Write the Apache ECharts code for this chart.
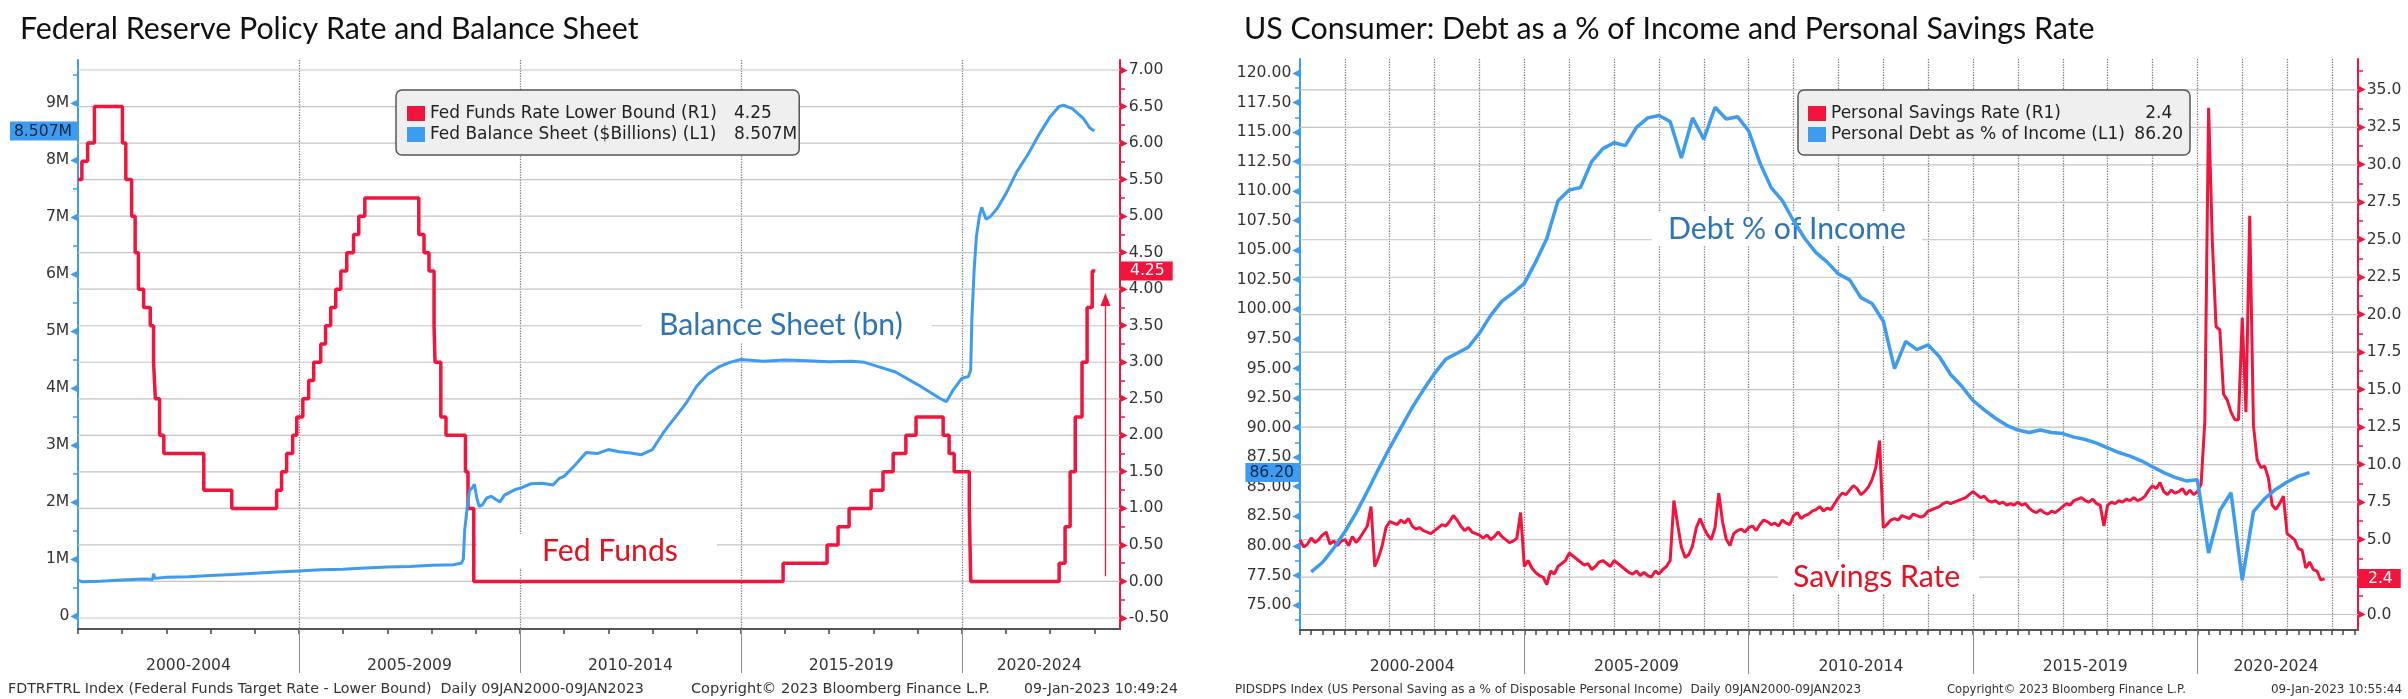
<!DOCTYPE html>
<html><head><meta charset="utf-8">
<script src="https://cdn.jsdelivr.net/npm/echarts@6/dist/echarts.min.js"></script>
<style>html,body{margin:0;padding:0;background:#fff}#c{width:2408px;height:699px}</style>
</head><body><div id="c"></div><script>
// ---------------- DATA ----------------
// Fed funds target rate, lower bound (change dates and new levels)
const ffDates = ['2000-01-01','2000-02-02','2000-03-21','2000-05-16','2001-01-03','2001-01-31','2001-03-20','2001-04-18','2001-05-15','2001-06-27','2001-08-21','2001-09-17','2001-10-02','2001-11-06','2001-12-11','2002-11-06','2003-06-25','2004-06-30','2004-08-10','2004-09-21','2004-11-10','2004-12-14','2005-02-02','2005-03-22','2005-05-03','2005-06-30','2005-08-09','2005-09-20','2005-11-01','2005-12-13','2006-01-31','2006-03-28','2006-05-10','2006-06-29','2007-09-18','2007-10-31','2007-12-11','2008-01-22','2008-01-30','2008-03-18','2008-04-30','2008-10-08','2008-10-29','2008-12-16','2015-12-16','2016-12-14','2017-03-15','2017-06-14','2017-12-13','2018-03-21','2018-06-13','2018-09-26','2018-12-19','2019-07-31','2019-09-18','2019-10-30','2020-03-03','2020-03-15','2022-03-16','2022-05-04','2022-06-15','2022-07-27','2022-09-21','2022-11-02','2022-12-14','2023-01-09'];
const ffRates = [5.50,5.75,6.00,6.50,6.00,5.50,5.00,4.50,4.00,3.75,3.50,3.00,2.50,2.00,1.75,1.25,1.00,1.25,1.50,1.75,2.00,2.25,2.50,2.75,3.00,3.25,3.50,3.75,4.00,4.25,4.50,4.75,5.00,5.25,4.75,4.50,4.25,3.50,3.00,2.25,2.00,1.50,1.00,0.00,0.25,0.50,0.75,1.00,1.25,1.50,1.75,2.00,2.25,2.00,1.75,1.50,1.00,0.00,0.25,0.75,1.50,2.25,3.00,3.75,4.25,4.25];
// Fed balance sheet (decimal year, millions of $ millions)
const bsYears = [2000.0,2000.1,2000.5,2001.0,2001.5,2001.69,2001.71,2001.74,2002.0,2002.5,2003.0,2003.5,2004.0,2004.5,2005.0,2005.5,2006.0,2006.5,2007.0,2007.5,2008.0,2008.5,2008.68,2008.72,2008.75,2008.8,2008.86,2008.92,2008.97,2009.03,2009.08,2009.15,2009.25,2009.35,2009.45,2009.55,2009.65,2009.75,2009.9,2010.0,2010.25,2010.5,2010.75,2010.9,2011.0,2011.25,2011.5,2011.75,2012.0,2012.25,2012.5,2012.75,2013.0,2013.25,2013.5,2013.75,2014.0,2014.25,2014.5,2014.75,2015.0,2015.5,2016.0,2016.5,2017.0,2017.5,2017.8,2018.0,2018.5,2019.0,2019.5,2019.65,2019.72,2019.8,2020.0,2020.15,2020.2,2020.23,2020.28,2020.33,2020.4,2020.45,2020.55,2020.65,2020.8,2021.0,2021.25,2021.5,2021.75,2022.0,2022.2,2022.3,2022.5,2022.75,2022.9,2023.0];
const bsValues = [0.63,0.60,0.61,0.63,0.65,0.64,0.74,0.66,0.68,0.69,0.71,0.73,0.75,0.77,0.79,0.81,0.82,0.84,0.86,0.87,0.89,0.90,0.93,1.00,1.50,1.85,2.20,2.25,2.31,2.05,1.92,1.95,2.07,2.10,2.05,2.00,2.12,2.16,2.22,2.24,2.32,2.33,2.30,2.42,2.45,2.65,2.87,2.85,2.92,2.88,2.86,2.83,2.92,3.22,3.47,3.72,4.03,4.24,4.37,4.45,4.50,4.47,4.49,4.48,4.46,4.47,4.45,4.40,4.28,4.06,3.82,3.76,3.85,3.96,4.17,4.20,4.31,5.25,6.08,6.66,7.02,7.17,6.96,7.01,7.15,7.41,7.80,8.10,8.45,8.76,8.94,8.96,8.90,8.73,8.56,8.51];
// Personal savings rate, monthly from Jan 2000
const savingsRate = [
5.0,4.5,4.7,5.1,4.8,5.0,5.3,5.5,4.7,4.9,4.6,4.9,
5.0,4.6,5.2,4.8,5.1,5.5,5.9,7.2,3.2,3.8,4.6,5.8,
6.2,6.1,6.0,6.3,6.1,6.4,5.9,5.7,5.8,5.6,5.5,5.4,
5.6,5.8,6.0,5.9,6.2,6.6,6.3,5.9,5.6,5.8,5.5,5.4,
5.3,5.1,5.3,5.0,5.2,5.5,5.2,5.0,4.8,4.9,5.1,6.8,
3.2,3.6,3.1,2.8,2.6,2.5,2.0,2.9,2.7,3.2,3.4,3.6,
4.1,3.9,3.7,3.5,3.3,3.4,3.0,3.2,3.5,3.6,3.4,3.2,
3.6,3.4,3.2,3.0,2.8,2.7,2.9,2.6,2.8,2.6,2.5,2.9,
2.7,3.0,3.2,3.6,7.6,6.0,4.5,3.8,4.0,4.6,5.8,6.4,
5.8,5.3,5.0,5.8,8.1,6.2,5.0,4.6,5.4,5.6,5.7,5.5,
5.8,5.9,5.6,6.0,6.3,6.2,6.0,6.1,5.9,6.3,6.1,6.0,
6.6,6.8,6.4,6.6,6.7,6.9,7.0,7.2,6.9,7.1,7.0,7.4,
7.8,8.1,8.0,8.3,8.6,8.4,8.0,8.2,8.5,9.0,9.8,11.6,
5.8,6.0,6.3,6.4,6.3,6.6,6.5,6.4,6.7,6.6,6.5,6.6,
6.9,7.0,7.1,7.2,7.4,7.5,7.4,7.5,7.6,7.7,7.8,8.0,
8.2,8.0,7.8,7.9,7.6,7.5,7.6,7.4,7.5,7.3,7.4,7.3,
7.5,7.3,7.4,7.1,6.9,6.8,7.0,6.8,6.7,6.9,6.8,7.0,
7.2,7.4,7.3,7.6,7.7,7.8,7.6,7.5,7.7,7.4,7.3,5.9,
7.3,7.5,7.4,7.6,7.5,7.7,7.6,7.8,7.6,7.7,7.9,8.3,
8.6,8.4,8.8,8.2,8.0,8.3,8.1,8.2,8.4,8.0,8.3,8.0,
8.2,8.7,12.9,33.8,24.9,19.2,19.0,14.7,14.3,13.5,13.0,13.0,
19.8,13.5,26.6,12.6,10.3,9.8,9.9,9.1,7.3,7.0,7.4,7.9,
5.4,5.2,5.0,4.4,4.3,3.1,3.5,3.0,2.9,2.3,2.4];
// Personal debt as % of income, quarterly from Q1 2000 (plotted at quarter end)
const debtPct = [
77.8,78.6,79.8,81.2, 82.8,84.6,86.5,88.3, 90.0,91.7,93.2,94.6, 95.8,96.3,96.8,98.0,
99.5,100.7,101.4,102.2, 104.0,106.0,109.2,110.1, 110.3,112.5,113.6,114.1, 113.85,115.4,116.2,116.4,
115.9,112.8,116.2,114.4, 117.1,116.1,116.3,115.1, 112.4,110.3,109.2,107.5, 106.0,104.8,104.0,103.0,
102.5,101.0,100.5,99.0, 95.0,97.3,96.6,97.0, 96.0,94.5,93.5,92.3, 91.5,90.8,90.2,89.8,
89.6,89.8,89.6,89.5, 89.2,89.0,88.7,88.3, 87.9,87.6,87.2,86.7, 86.2,85.8,85.5,85.6,
79.4,83.0,84.5,77.1, 82.9,84.0,84.8,85.4, 85.9,86.2];

// Tick / label values
const periodLabels = ['2000-2004','2005-2009','2010-2014','2015-2019','2020-2024'];
const periodCenters = [2002.5, 2007.5, 2012.5, 2017.5, 2021.75];
const majorYears = [2005, 2010, 2015, 2020];
const allYears = [2000,2001,2002,2003,2004,2005,2006,2007,2008,2009,2010,2011,2012,2013,2014,2015,2016,2017,2018,2019,2020,2021,2022,2023];
const fedLeftTicks = [0,1,2,3,4,5,6,7,8,9];
const fedRightTicks = [-0.5,0,0.5,1,1.5,2,2.5,3,3.5,4,4.5,5,5.5,6,6.5,7];
const conLeftTicks = [75,77.5,80,82.5,85,87.5,90,92.5,95,97.5,100,102.5,105,107.5,110,112.5,115,117.5,120];
const conRightTicks = [0,2.5,5,7.5,10,12.5,15,17.5,20,22.5,25,27.5,30,32.5,35];
const fedNames = ['Fed Funds Rate Lower Bound (R1)','Fed Balance Sheet ($Billions) (L1)'];
const fedValues = ['4.25','8.507M'];
const conNames = ['Personal Savings Rate (R1)','Personal Debt as % of Income (L1)'];
const conValues = ['2.4','86.20'];
const lastFF = 4.25, lastBS = 8.507, lastSav = 2.4, lastDebt = 86.20;
const arrowX = 2023.25, arrowFrom = 0.07, arrowTo = 3.86;

// ---------------- FONTS / MEASURING ----------------
const _ctx = document.createElement('canvas').getContext('2d');
function measure(t, size, fam){ _ctx.font = 'normal '+size+'px '+fam; return _ctx.measureText(t).width; }
function hasFont(f){ const s='abcdefghijkWMQ0123456789'; return Math.abs(measure(s,40,"'"+f+"',monospace")-measure(s,40,'monospace'))>0.5; }
const FA = hasFont('DejaVu Sans') ? "'DejaVu Sans'" : (hasFont('Verdana') ? 'Verdana' : "'Noto Sans',sans-serif");
const FT = hasFont('Lato') ? 'Lato' : "'Open Sans',sans-serif";
const fit = (t, fam, w) => +(100*w/measure(t,100,fam)).toFixed(2);

const RED = '#f2143c', BLUE = '#3d9cf0', TXT = '#333', GRIDC = '#7d7d7d';
const AXS = fit('2000-2004', FA, 85);
const TITLE_SZ = (fit('Federal Reserve Policy Rate and Balance Sheet', FT, 620) + fit('US Consumer: Debt as a % of Income and Personal Savings Rate', FT, 849))/2;
const NOTE_SZ = (fit('Balance Sheet (bn)', FT, 249) + fit('Fed Funds', FT, 134) + fit('Savings Rate', FT, 166))/3;

function decYear(s){const d=Date.parse(s+'T00:00:00Z');const y=+s.slice(0,4);const a=Date.UTC(y,0,1),b=Date.UTC(y+1,0,1);return y+(d-a)/(b-a);}
const halfSteps = (a, step) => a.map(v=>v+step/2);

const ffData = ffDates.map((d,i)=>[decYear(d), ffRates[i]]);
const bsData = bsYears.map((y,i)=>[y, bsValues[i]]);
const svData = savingsRate.map((v,i)=>[2000 + i/12, v]);
const dbData = debtPct.map((v,i)=>[2000.25 + i*0.25, v]);

const XMIN = 2000, XMAX = 2023.58;
const quarterTicks = [];
allYears.forEach(y=>{[0,0.25,0.5,0.75].forEach(q=>{ if(y+q<=XMAX) quarterTicks.push(y+q); });});

const G1 = {left:78, top:60, width:1042, height:569, rMin:-0.6505, rMax:7.137, lMin:-0.228, lMax:9.754};
const G2 = {left:1300, top:59, width:1058, height:571, rMin:-1.034, rMax:37.06, lMin:72.89, lMax:121.18};
const DOT = {color:GRIDC, width:1.3, type:'dotted'};

function xAxes(g, minorTicks, gridStep){
  return [
    {type:'value', gridIndex:g, min:XMIN, max:XMAX, position:'bottom',
      axisLine:{show:true, onZero:false, lineStyle:{color:'#555', width:2}},
      axisTick:{show:true, customValues:minorTicks, length:5, lineStyle:{color:'#444', width:1.5}},
      axisLabel:{show:true, customValues:periodCenters, margin:29, fontFamily:FA, fontSize:AXS, color:TXT,
        formatter:v=>{const i=periodCenters.findIndex(c=>Math.abs(c-v)<1e-6);return i<0?'':periodLabels[i];}},
      splitLine:{show:false}},
    {type:'value', gridIndex:g, min:XMIN, max:XMAX, position:'bottom',
      axisLine:{show:false, onZero:false}, axisLabel:{show:false},
      axisTick:{show:true, customValues:majorYears, length:44, lineStyle:{color:'#8a8a8a', width:1}},
      splitLine:{show:false}},
    {type:'value', gridIndex:g, min:XMIN, max:XMAX, interval:gridStep, position:'bottom',
      axisLine:{show:false, onZero:false}, axisLabel:{show:false}, axisTick:{show:false},
      splitLine:{show:true, showMinLine:false, showMaxLine:false, lineStyle:DOT}}
  ];
}
// horizontal grid drawn as a broken line series across the plot at each right-axis tick value
function hGridSeries(xi, yi, ticks){
  const pts = [];
  ticks.forEach(v=>{ pts.push([XMIN, v], [XMAX, v], [XMAX, null]); });
  return {type:'line', xAxisIndex:xi, yAxisIndex:yi, data:pts, connectNulls:false, silent:true, z:1,
    showSymbol:false, symbol:'none', legendHoverLink:false, animation:false,
    lineStyle:{color:'#c4c4c4', width:1.2, type:'solid'}, emphasis:{disabled:true}};
}
function flagLabel(txt, bg, fg, pad){
  return {show:true, formatter:txt, margin:0, backgroundColor:bg, color:fg, fontFamily:FA, fontSize:AXS, padding:pad, borderRadius:0};
}
function leftAxis(g, min, max, labels, minors, fmt, color, flagVal, flagTxt){
  return {type:'value', gridIndex:g, min, max, position:'left',
    axisLine:{show:true, onZero:false, lineStyle:{color, width:2}},
    axisTick:{show:true, customValues:minors, length:5, lineStyle:{color, width:1.5}},
    axisLabel:{show:true, customValues:labels, margin:0, formatter:v=>'{v|'+fmt(v)+'}{a|◀}',
      rich:{v:{fontFamily:FA, fontSize:AXS, color:TXT, padding:[0,1,0,0]}, a:{fontFamily:FA, fontSize:10, color}}},
    splitLine:{show:false},
    axisPointer:{show:true, status:'show', value:flagVal, snap:false, triggerTooltip:false, type:'line',
      lineStyle:{opacity:0, width:0}, label:flagLabel(flagTxt, color, '#0b2545', [2,6,1,4])}};
}
function rightAxis(g, min, max, labels, minors, fmt, color, flagVal, flagTxt){
  return {type:'value', gridIndex:g, min, max, position:'right',
    axisLine:{show:true, onZero:false, lineStyle:{color, width:2}},
    axisTick:{show:true, customValues:minors, length:5, lineStyle:{color, width:1.5}},
    axisLabel:{show:true, customValues:labels, margin:0, formatter:v=>'{a|▶}{v|'+fmt(v)+'}',
      rich:{v:{fontFamily:FA, fontSize:AXS, color:TXT, padding:[0,0,0,1]}, a:{fontFamily:FA, fontSize:10, color}}},
    splitLine:{show:false},
    axisPointer:{show:true, status:'show', value:flagVal, snap:false, triggerTooltip:false, type:'line',
      lineStyle:{opacity:0, width:0}, label:flagLabel(flagTxt, color, '#fff', [2,8,1,10])}};
}
function legend(left, top, names, values, textX, valueStarts, boxRight, padL, sz){
  const rich = {v:{fontFamily:FA, fontSize:sz, color:'#222', lineHeight:19}};
  let maxEnd = 0;
  names.forEach((n,i)=>{
    const gap = Math.max(2, valueStarts[i] - textX - measure(n, sz, FA));
    rich['n'+i] = {padding:[0, gap, 0, 0], fontFamily:FA, fontSize:sz, color:'#222', lineHeight:19};
    maxEnd = Math.max(maxEnd, valueStarts[i] + measure(values[i], sz, FA));
  });
  const padR = Math.max(2, boxRight - maxEnd);
  return {left, top, orient:'vertical', data:names, icon:'rect', itemWidth:18, itemHeight:15, itemGap:2,
    padding:[14, padR, 11, padL], backgroundColor:'#efefef', borderColor:'#555', borderWidth:1.5, borderRadius:6,
    selectedMode:false, z:8,
    formatter:n=>{const i=names.indexOf(n); return '{n'+i+'|'+n+'}{v|'+values[i]+'}';},
    textStyle:{fontFamily:FA, fontSize:sz, color:'#222', lineHeight:19, rich}};
}
function note(text, left, top, color, pad){
  return {type:'text', left, top, z:3, silent:true,
    style:{text, font:NOTE_SZ.toFixed(1)+'px '+FT, fill:color, backgroundColor:'#fff', padding:pad}};
}
function foot(text, left, top, width){
  return {text, left, top, padding:0, textStyle:{fontFamily:FA, fontSize:fit(text, FA, width), fontWeight:'normal', color:'#333'}};
}
const titleStyle = {fontFamily:FT, fontSize:TITLE_SZ, fontWeight:'normal', color:'#111'};

const FED_LSZ = fit(fedNames[0], FA, 287);
const CON_LSZ = fit(conNames[1], FA, 294);
const conDot = 2156;
const conStarts = conValues.map(v=>conDot - measure(v.split('.')[0], CON_LSZ, FA));
const toLeft = v => G1.lMin + (v-G1.rMin)*(G1.lMax-G1.lMin)/(G1.rMax-G1.rMin);

const option = {
  animation:false,
  backgroundColor:'#fff',
  title:[
    {text:'Federal Reserve Policy Rate and Balance Sheet', left:20, top:14, padding:0, textStyle:titleStyle},
    {text:'US Consumer: Debt as a % of Income and Personal Savings Rate', left:1244, top:14, padding:0, textStyle:titleStyle},
    foot('FDTRFTRL Index (Federal Funds Target Rate - Lower Bound)  Daily 09JAN2000-09JAN2023', 8, 682, 636),
    foot('Copyright© 2023 Bloomberg Finance L.P.', 691, 682, 299),
    foot('09-Jan-2023 10:49:24', 1024, 682, 154),
    foot('PIDSDPS Index (US Personal Saving as a % of Disposable Personal Income)  Daily 09JAN2000-09JAN2023', 1235, 684, 626),
    foot('Copyright© 2023 Bloomberg Finance L.P.', 1947, 684, 239),
    foot('09-Jan-2023 10:55:44', 2271, 684, 131)
  ],
  legend:[
    legend(396, 90, fedNames, fedValues, 430, [734, 734], 799, 11, FED_LSZ),
    legend(1798, 90, conNames, conValues, 1831, conStarts, 2190, 10, CON_LSZ)
  ],
  grid:[
    {left:G1.left, top:G1.top, width:G1.width, height:G1.height, containLabel:false},
    {left:G2.left, top:G2.top, width:G2.width, height:G2.height, containLabel:false}
  ],
  xAxis:[].concat(xAxes(0, allYears, 5), xAxes(1, quarterTicks, 1)),
  yAxis:[
    leftAxis(0, G1.lMin, G1.lMax, fedLeftTicks, halfSteps(fedLeftTicks,1), v=>v===0?'0':v+'M', BLUE, lastBS, '8.507M'),
    rightAxis(0, G1.rMin, G1.rMax, fedRightTicks, halfSteps(fedRightTicks,0.5).slice(0,-1), v=>v.toFixed(2), RED, lastFF, '4.25'),
    leftAxis(1, G2.lMin, G2.lMax, conLeftTicks, halfSteps(conLeftTicks,2.5).concat([73.75]), v=>v.toFixed(2), BLUE, lastDebt, '86.20'),
    rightAxis(1, G2.rMin, G2.rMax, conRightTicks, halfSteps(conRightTicks,2.5), v=>v.toFixed(1), RED, lastSav, '2.4')
  ],
  graphic:[
    note('Balance Sheet (bn)', 642, 308, '#2e74b5', [2,29,2,17]),
    note('Fed Funds', 477, 534, '#e8101e', [2,39,2,65]),
    note('Debt % of Income', 1652, 212, '#2e74b5', [2,16,2,16]),
    note('Savings Rate', 1778, 560, '#e8101e', [2,19,2,15])
  ],
  series:[
    hGridSeries(0, 1, fedRightTicks),
    hGridSeries(3, 3, conRightTicks),
    {name:fedNames[0], type:'line', xAxisIndex:0, yAxisIndex:1, data:ffData, step:'end',
      showSymbol:false, symbol:'none', color:RED, lineStyle:{width:3.5, color:RED}, z:4},
    {name:fedNames[1], type:'line', xAxisIndex:0, yAxisIndex:0, data:bsData,
      showSymbol:false, symbol:'none', color:BLUE, lineStyle:{width:3, color:BLUE}, z:5,
      markLine:{silent:true, symbol:['none','triangle'], symbolSize:[10,13], label:{show:false}, z:5, animation:false,
        lineStyle:{color:RED, width:1.3, type:'solid'}, itemStyle:{color:RED},
        data:[[{coord:[arrowX, toLeft(arrowFrom)]}, {coord:[arrowX, toLeft(arrowTo)]}]]}},
    {name:conNames[0], type:'line', xAxisIndex:3, yAxisIndex:3, data:svData,
      showSymbol:false, symbol:'none', color:RED, lineStyle:{width:3, color:RED}, z:4},
    {name:conNames[1], type:'line', xAxisIndex:3, yAxisIndex:2, data:dbData,
      showSymbol:false, symbol:'none', color:BLUE, lineStyle:{width:3.5, color:BLUE}, z:5}
  ]
};
const chart = echarts.init(document.getElementById('c'), null, {renderer:'canvas'});
chart.setOption(option);
</script></body></html>
